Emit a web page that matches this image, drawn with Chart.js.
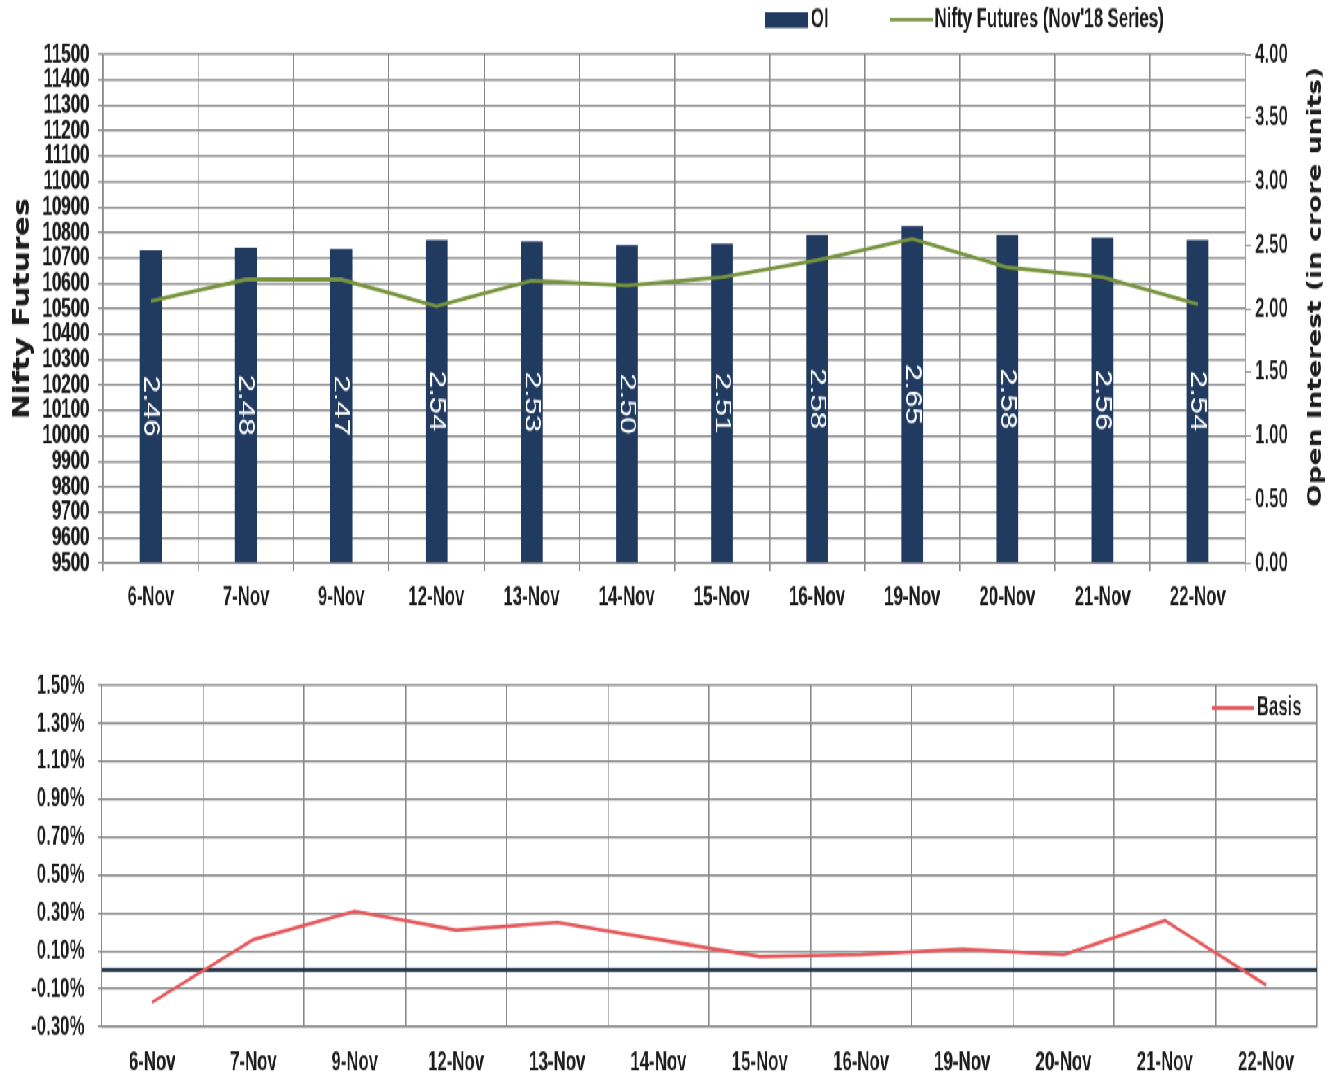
<!DOCTYPE html>
<html>
<head>
<meta charset="utf-8">
<script src="https://cdn.jsdelivr.net/npm/chart.js@4.4.0/dist/chart.umd.min.js"></script>
<style>
  html, body { margin: 0; padding: 0; background: #fff; }
  #frame { width: 1338px; height: 1077px; overflow: hidden; position: relative; }
  /* the source picture is squeezed sideways and stretched vertically, so draw flat and transform */
  #wrap { position: absolute; left: 0; top: 0; width: 1632px; height: 792px; transform: scale(0.819853, 1.36); transform-origin: 0 0; }
  canvas { display: block; }
</style>
</head>
<body>
<div id="frame">
<div id="wrap">
  <canvas id="topChart" width="1632" height="463"></canvas>
  <canvas id="basisChart" width="1632" height="329"></canvas>
</div>
</div>
<script>
const days = ["6-Nov", "7-Nov", "9-Nov", "12-Nov", "13-Nov", "14-Nov", "15-Nov", "16-Nov", "19-Nov", "20-Nov", "21-Nov", "22-Nov"];
const oi = [2.46, 2.48, 2.47, 2.54, 2.53, 2.50, 2.51, 2.58, 2.65, 2.58, 2.56, 2.54];
const niftyFut = [10530, 10615, 10615, 10510, 10610, 10592, 10624, 10690, 10775, 10663, 10624, 10518];
const basis = [-0.17, 0.16, 0.31, 0.21, 0.25, 0.16, 0.07, 0.08, 0.11, 0.08, 0.26, -0.08];

const SX = 1338 / 1632; // horizontal squeeze applied by the css transform
const sans = "'Liberation Sans', Arial, sans-serif";
const gridColor = "#8a8a8a";
const textColor = "#1c1c1c";
Chart.defaults.font.family = sans;
Chart.defaults.font.weight = "bold";
Chart.defaults.color = textColor;
const tickFont = { size: 20.5, weight: "bold" };

// text that is not squeezed in the source: undo the sideways squeeze
function uprightText(ctx, text, x, y, angle, font) {
  ctx.save();
  ctx.translate(x, y);
  ctx.scale(1 / SX, 1);
  ctx.rotate(angle);
  ctx.font = font;
  ctx.textAlign = "center";
  ctx.textBaseline = "middle";
  ctx.fillText(text, 0, 0);
  ctx.restore();
}

// legend for the top chart, drawn above the plot on the right
const topLegend = {
  id: "topLegend",
  afterDraw(chart) {
    const ctx = chart.ctx;
    const line = chart.data.datasets[0];
    const bar = chart.data.datasets[1];
    ctx.save();
    ctx.font = "bold 20.5px " + sans;
    ctx.textBaseline = "middle";
    ctx.fillStyle = bar.backgroundColor;
    ctx.fillRect(933, 9, 52.5, 11.5);
    ctx.fillStyle = textColor;
    ctx.fillText(bar.label, 989, 14.5);
    ctx.strokeStyle = line.borderColor;
    ctx.lineWidth = 2.5;
    ctx.beginPath();
    ctx.moveTo(1085, 14.5);
    ctx.lineTo(1138, 14.5);
    ctx.stroke();
    ctx.fillText(line.label, 1140, 14.5);
    ctx.restore();
  }
};

// white rotated value labels in the middle of each bar
const barLabels = {
  id: "barLabels",
  afterDatasetsDraw(chart) {
    const meta = chart.getDatasetMeta(1);
    const ctx = chart.ctx;
    ctx.save();
    ctx.fillStyle = "#ffffff";
    meta.data.forEach((el, i) => {
      uprightText(ctx, oi[i].toFixed(2), el.x, (el.y + el.base) / 2, Math.PI / 2, "23px " + sans);
    });
    ctx.restore();
  }
};

// both axis titles read bottom to top
const axisTitles = {
  id: "axisTitles",
  afterDraw(chart) {
    const ctx = chart.ctx;
    const area = chart.chartArea;
    ctx.save();
    ctx.fillStyle = textColor;
    uprightText(ctx, "Nifty Futures", 28, (area.top + area.bottom) / 2, -Math.PI / 2, "bold 22px 'DejaVu Sans', sans-serif");
    uprightText(ctx, "Open Interest (in crore units)", 1605, 211, -Math.PI / 2, "bold 19.5px 'DejaVu Sans', sans-serif");
    ctx.restore();
  }
};

new Chart(document.getElementById("topChart"), {
  data: {
    labels: days,
    datasets: [
      {
        type: "line",
        label: "Nifty Futures (Nov'18 Series)",
        data: niftyFut,
        yAxisID: "y",
        borderColor: "#77933c",
        borderWidth: 2.8,
        pointRadius: 0,
        tension: 0,
        order: 0,
      },
      {
        type: "bar",
        label: "OI",
        data: oi,
        yAxisID: "y1",
        backgroundColor: "#203a60",
        barPercentage: 0.23,
        categoryPercentage: 1,
        order: 1,
      },
    ],
  },
  options: {
    responsive: false,
    animation: false,
    devicePixelRatio: 1,
    layout: { padding: { top: 40, left: 0, right: 0, bottom: 0 } },
    plugins: { legend: { display: false }, tooltip: { enabled: false } },
    scales: {
      x: {
        offset: true,
        grid: { color: gridColor, lineWidth: 1.6, tickLength: 6, offset: true },
        border: { color: gridColor, width: 1.6 },
        ticks: { font: tickFont, padding: 7, maxRotation: 0, autoSkip: false },
        afterFit: (s) => { s.height = 49; },
      },
      y: {
        position: "left",
        min: 9500,
        max: 11500,
        ticks: { stepSize: 100, maxTicksLimit: 40, autoSkip: false, font: tickFont, padding: 11, callback: (v) => String(v) },
        grid: { color: gridColor, lineWidth: 1.4, tickLength: 6 },
        border: { color: gridColor, width: 1.6 },
        afterFit: (s) => { s.width = 126; },
      },
      y1: {
        position: "right",
        min: 0,
        max: 4,
        ticks: { stepSize: 0.5, autoSkip: false, font: tickFont, padding: 5, callback: (v) => v.toFixed(2) },
        grid: { drawOnChartArea: false, color: gridColor, tickLength: 7 },
        border: { color: gridColor, width: 1.6 },
        afterFit: (s) => { s.width = 113; },
      },
    },
  },
  plugins: [barLabels, topLegend, axisTitles],
});

// thick zero line across the basis plot
const zeroLine = {
  id: "zeroLine",
  beforeDatasetsDraw(chart) {
    const ctx = chart.ctx;
    const y = chart.scales.y.getPixelForValue(0);
    ctx.save();
    ctx.strokeStyle = "#243447";
    ctx.lineWidth = 3;
    ctx.beginPath();
    ctx.moveTo(chart.chartArea.left, y);
    ctx.lineTo(chart.chartArea.right, y);
    ctx.stroke();
    ctx.restore();
  }
};

// legend inside the plot, top right
const basisLegend = {
  id: "basisLegend",
  afterDraw(chart) {
    const ds = chart.data.datasets[0];
    const ctx = chart.ctx;
    ctx.save();
    ctx.strokeStyle = ds.borderColor;
    ctx.lineWidth = 2.8;
    ctx.beginPath();
    ctx.moveTo(1478, 57.5);
    ctx.lineTo(1530, 57.5);
    ctx.stroke();
    ctx.font = "bold 20.5px " + sans;
    ctx.fillStyle = textColor;
    ctx.textBaseline = "middle";
    ctx.fillText(ds.label, 1533, 57.5);
    ctx.restore();
  }
};

new Chart(document.getElementById("basisChart"), {
  type: "line",
  data: {
    labels: days,
    datasets: [
      {
        label: "Basis",
        data: basis,
        borderColor: "#e4575b",
        borderWidth: 2.6,
        pointRadius: 0,
        tension: 0,
      },
    ],
  },
  options: {
    responsive: false,
    animation: false,
    devicePixelRatio: 1,
    layout: { padding: { top: 41, left: 0, right: 26, bottom: 0 } },
    plugins: { legend: { display: false }, tooltip: { enabled: false } },
    scales: {
      x: {
        offset: true,
        grid: { color: gridColor, lineWidth: 1.6, drawTicks: false, offset: true },
        border: { color: gridColor, width: 1.6 },
        ticks: { font: tickFont, padding: 14, maxRotation: 0, autoSkip: false },
        afterFit: (s) => { s.height = 37; },
      },
      y: {
        min: -0.3,
        max: 1.5,
        ticks: { stepSize: 0.2, autoSkip: false, font: tickFont, padding: 16, callback: (v) => v.toFixed(2) + "%" },
        grid: { color: gridColor, lineWidth: 1.4, tickLength: 5 },
        border: { color: gridColor, width: 1.6 },
        afterFit: (s) => { s.width = 124; },
      },
    },
  },
  plugins: [zeroLine, basisLegend],
});
</script>
</body>
</html>
